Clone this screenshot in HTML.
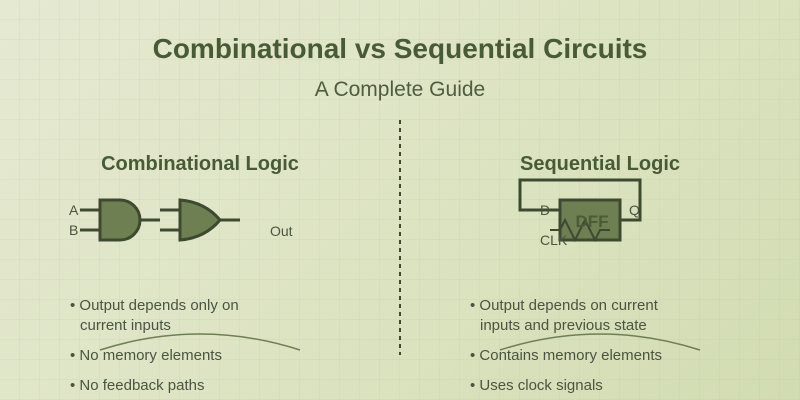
<!DOCTYPE html>
<html><head><style>
html,body{margin:0;padding:0}
body{width:800px;height:400px;overflow:hidden;background:linear-gradient(135deg,#e6e9d2 0%,#dde4c3 50%,#d2dcb2 100%);font-family:"Liberation Sans",sans-serif}
svg{position:absolute;left:0;top:0}
</style></head><body>
<svg width="800" height="400" viewBox="0 0 800 400">
<defs><pattern id="g" width="20" height="20" patternUnits="userSpaceOnUse"><path d="M20 0V20H0" fill="none" stroke="#b8c49a" stroke-opacity="0.35" stroke-width="1"/></pattern></defs>
<rect width="800" height="400" fill="url(#g)"/>
<g font-family="Liberation Sans, sans-serif" fill="#4a5a36">
<text x="400" y="58" text-anchor="middle" font-size="28" font-weight="bold" fill="#485a36">Combinational vs Sequential Circuits</text>
<text x="400" y="96" text-anchor="middle" font-size="21" fill="#4e5c40">A Complete Guide</text>
<text x="200" y="170" text-anchor="middle" font-size="20" font-weight="bold" fill="#485a36">Combinational Logic</text>
<text x="600" y="170" text-anchor="middle" font-size="20" font-weight="bold" fill="#485a36">Sequential Logic</text>
</g>
<line x1="400" y1="120" x2="400" y2="355" stroke="#3e4a30" stroke-width="2" stroke-dasharray="4,4"/>
<g stroke="#3e4a30" stroke-width="3" fill="#6e7f52">
<line x1="80" y1="210" x2="100" y2="210"/><line x1="80" y1="230" x2="100" y2="230"/>
<path d="M100 200H120A20 20 0 0 1 120 240H100Z"/>
<line x1="140" y1="220" x2="160" y2="220"/>
<line x1="160" y1="210" x2="185" y2="210"/><line x1="160" y1="230" x2="185" y2="230"/>
<path d="M180 200Q205 202 220 220Q205 238 180 240Z"/>
<line x1="220" y1="220" x2="240" y2="220"/>
</g>
<g font-family="Liberation Sans, sans-serif" font-size="14" fill="#4a5440">
<text x="69" y="215">A</text><text x="69" y="235">B</text><text x="270" y="236">Out</text>
</g>
<g stroke="#3e4a30" stroke-width="3" fill="none">
<rect x="560" y="200" width="60" height="40" fill="#6e7f52"/>
<path d="M560 210H520V180H640V220H620"/>
<path d="M550 230H560L565 220L575 240L585 220L595 240L600 230H610" stroke-width="2"/>
</g>
<text x="592" y="227" text-anchor="middle" font-family="Liberation Sans, sans-serif" font-size="17" font-weight="bold" fill="#4a5a36">DFF</text>
<g font-family="Liberation Sans, sans-serif" font-size="14" fill="#4a5440">
<text x="540" y="215">D</text><text x="629" y="215">Q</text><text x="540" y="245">CLK</text>
</g>
<g font-family="Liberation Sans, sans-serif" font-size="15" fill="#4a5440">
<text x="70" y="310">• Output depends only on</text><text x="80" y="330">current inputs</text>
<text x="70" y="360">• No memory elements</text><text x="70" y="390">• No feedback paths</text>
<text x="470" y="310">• Output depends on current</text><text x="480" y="330">inputs and previous state</text>
<text x="470" y="360">• Contains memory elements</text><text x="470" y="390">• Uses clock signals</text>
</g>
<path d="M100 350Q200 318 300 350" stroke="#6e7f52" stroke-width="1.5" fill="none"/>
<path d="M500 350Q600 318 700 350" stroke="#6e7f52" stroke-width="1.5" fill="none"/>
</svg>
</body></html>
